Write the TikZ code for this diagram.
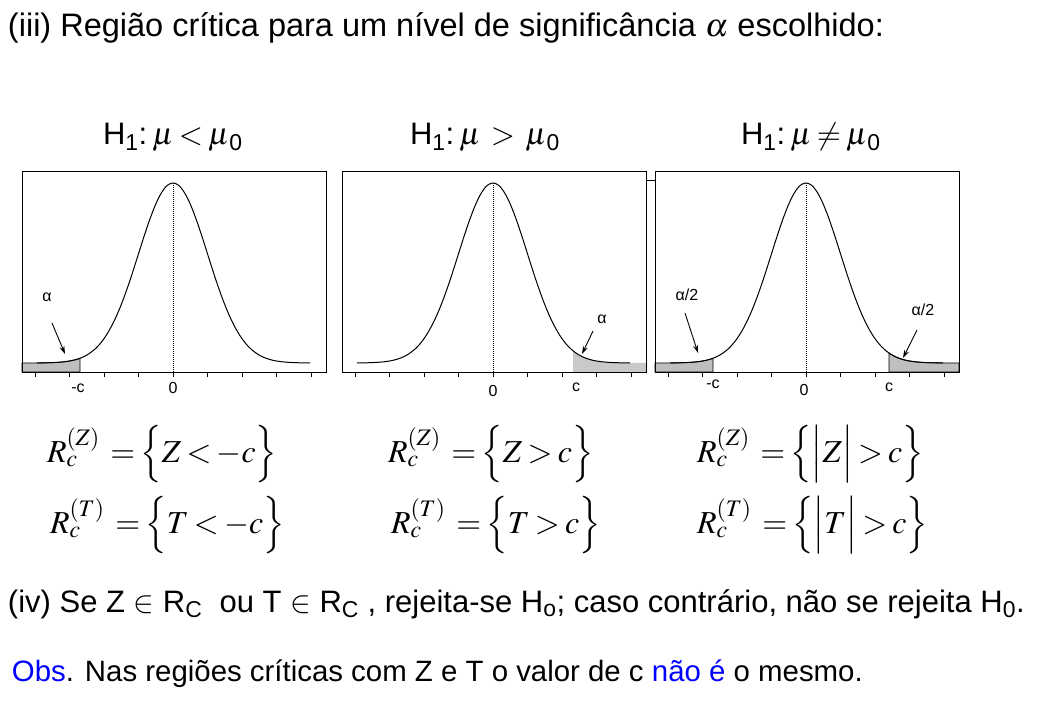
\documentclass[tikz,border=0pt]{standalone}
\usepackage{amsmath}
\usepackage{mathptmx}
\usepackage[no-math]{fontspec}
\setmainfont{Liberation Sans}
\usetikzlibrary{arrows.meta}

\newcommand{\tightmath}{\thickmuskip=3mu \medmuskip=2mu\relax}

\begin{document}
\begin{tikzpicture}[x=1pt, y=-1pt,
	every node/.style={inner sep=0pt, outer sep=0pt},
	bigtext/.style={font=\fontsize{31}{36}\selectfont, anchor=base west},
	formula/.style={font=\fontsize{32}{32}\selectfont, anchor=base west},
	plotbox/.style={draw, line width=1pt},
	tailfill/.style={fill=gray!50, draw, line width=0.8pt},
	smalllabel/.style={font=\fontsize{16}{18}\selectfont},
	tiparrow/.style={-{Stealth[length=8pt, width=5pt]}, line width=0.9pt},
]

	% ---- parameters

	\def\sig{34.5}
	\def\amp{180}
	\def\lift{9}
	\def\bell{-\lift-\amp*exp(-0.5*(\x/\sig)*(\x/\sig))}

	\useasboundingbox (0,0) rectangle (1059,703);

	% ---- title

	\node[bigtext, font=\fontsize{32.5}{36}\selectfont] (title) at (8,37) {(iii) Região crítica para um nível de significância $\alpha$ escolhido:};

	% ---- hypotheses

	\node[bigtext] (hone) at (103,145) {H\textsubscript{1}:\,$\mu\mkern3mu{<}\mkern3mu\mu$\textsubscript{0}};
	\node[bigtext] (htwo) at (410,145) {H\textsubscript{1}:\,$\mu\mkern6mu{>}\mkern6mu\mu$\textsubscript{0}};
	\node[bigtext] (hthree) at (741,145) {H\textsubscript{1}:\,$\mu\mkern3mu{\neq}\mkern3mu\mu$\textsubscript{0}};

	% ---- shaded tails

	\begin{scope}[shift={(173,372)}]
		\filldraw[tailfill] (-151,0) -- plot[domain=-151:-93, samples=20] (\x,{\bell}) -- (-93,0) -- cycle;
	\end{scope}

	\begin{scope}[shift={(493,372)}]
		\fill[gray!42] (80,0) -- plot[domain=80:154, samples=20] (\x,{\bell}) -- (154,0) -- cycle;
	\end{scope}

	\begin{scope}[shift={(806,372)}]
		\filldraw[tailfill] (-151,0) -- plot[domain=-151:-93, samples=20] (\x,{\bell}) -- (-93,0) -- cycle;
		\filldraw[tailfill] (83,0) -- plot[domain=83:153, samples=20] (\x,{\bell}) -- (153,0) -- cycle;
	\end{scope}

	% ---- boxes, curves, ticks

	\foreach \cx/\nm in {173/one, 493/two, 806/three} {
		\begin{scope}[shift={(\cx,372)}]
			\draw[plotbox] (-151,-200) rectangle (153,0);
			\coordinate (tl\nm) at (-151,-191);
			\coordinate (tr\nm) at (153,-191);
			\draw[line width=1pt] plot[domain=-136:137, samples=90, smooth] (\x,{\bell});
			\draw[densely dotted, line width=1pt] (0,{-\lift-\amp}) -- (0,0);
			\foreach \k in {-4,...,4} { \draw[line width=0.8pt] (\k*\sig,0) -- (\k*\sig,5); }
		\end{scope}
	}

	\draw[line width=1pt] (trtwo) -- (tlthree);

	% ---- panel labels

	\begin{scope}[shift={(173,372)}]
		\node[smalllabel] (aone) at (-126,-75) {α};
		\coordinate (aonetip) at (-108,-18);
		\draw[tiparrow] (-121,-49) -- (aonetip);
		\node[smalllabel] (conem) at (-95,16) {-c};
		\node[smalllabel] (zone) at (0,16) {0};
	\end{scope}

	\begin{scope}[shift={(493,372)}]
		\node[smalllabel] (atwo) at (109,-53) {α};
		\coordinate (atwotip) at (89,-18);
		\draw[tiparrow] (100,-41) -- (atwotip);
		\node[smalllabel] (ztwo) at (0,19) {0};
		\node[smalllabel] (ctwo) at (83,15) {c};
	\end{scope}

	\begin{scope}[shift={(806,372)}]
		\node[smalllabel] (athreel) at (-119,-77) {α/2};
		\coordinate (athreeltip) at (-108,-19);
		\draw[tiparrow] (-121,-59) -- (athreeltip);
		\node[smalllabel] (athreer) at (117,-62) {α/2};
		\coordinate (athreertip) at (97,-14);
		\draw[tiparrow] (111,-42) -- (athreertip);
		\node[smalllabel] (cthreem) at (-93,12) {-c};
		\node[smalllabel] (zthree) at (-2,18) {0};
		\node[smalllabel] (cthree) at (83,15) {c};
	\end{scope}

	% ---- critical regions

	\node[formula] (rzone) at (47,462) {$\tightmath R_c^{(Z)}\;=\Big\{Z<-c\Big\}$};
	\node[formula] (rtone) at (50,533) {$\tightmath R_c^{(T)}\;=\Big\{T<-c\Big\}$};
	\node[formula] (rztwo) at (388,462) {$\tightmath R_c^{(Z)}\;=\Big\{Z>c\Big\}$};
	\node[formula] (rttwo) at (391,533) {$\tightmath R_c^{(T)}\;=\Big\{T>c\Big\}$};
	\node[formula] (rzthree) at (697,462) {$\tightmath R_c^{(Z)}\;=\Big\{\Big|Z\Big|>c\Big\}$};
	\node[formula] (rtthree) at (697,533) {$\tightmath R_c^{(T)}\;=\Big\{\Big|T\Big|>c\Big\}$};

	% ---- decision and remark

	\node[bigtext] (decision) at (8,612) {(iv) Se Z $\in$ R\textsubscript{C}\ \ ou T $\in$ R\textsubscript{C} , rejeita-se H\textsubscript{o}; caso contrário, não se rejeita H\textsubscript{0}.};
	\node[bigtext, font=\fontsize{29.4}{34}\selectfont] (remark) at (12,681) {\textcolor{blue}{Obs}. Nas regiões críticas com Z e T o valor de c \textcolor{blue}{não é} o mesmo.};

\end{tikzpicture}
\end{document}
